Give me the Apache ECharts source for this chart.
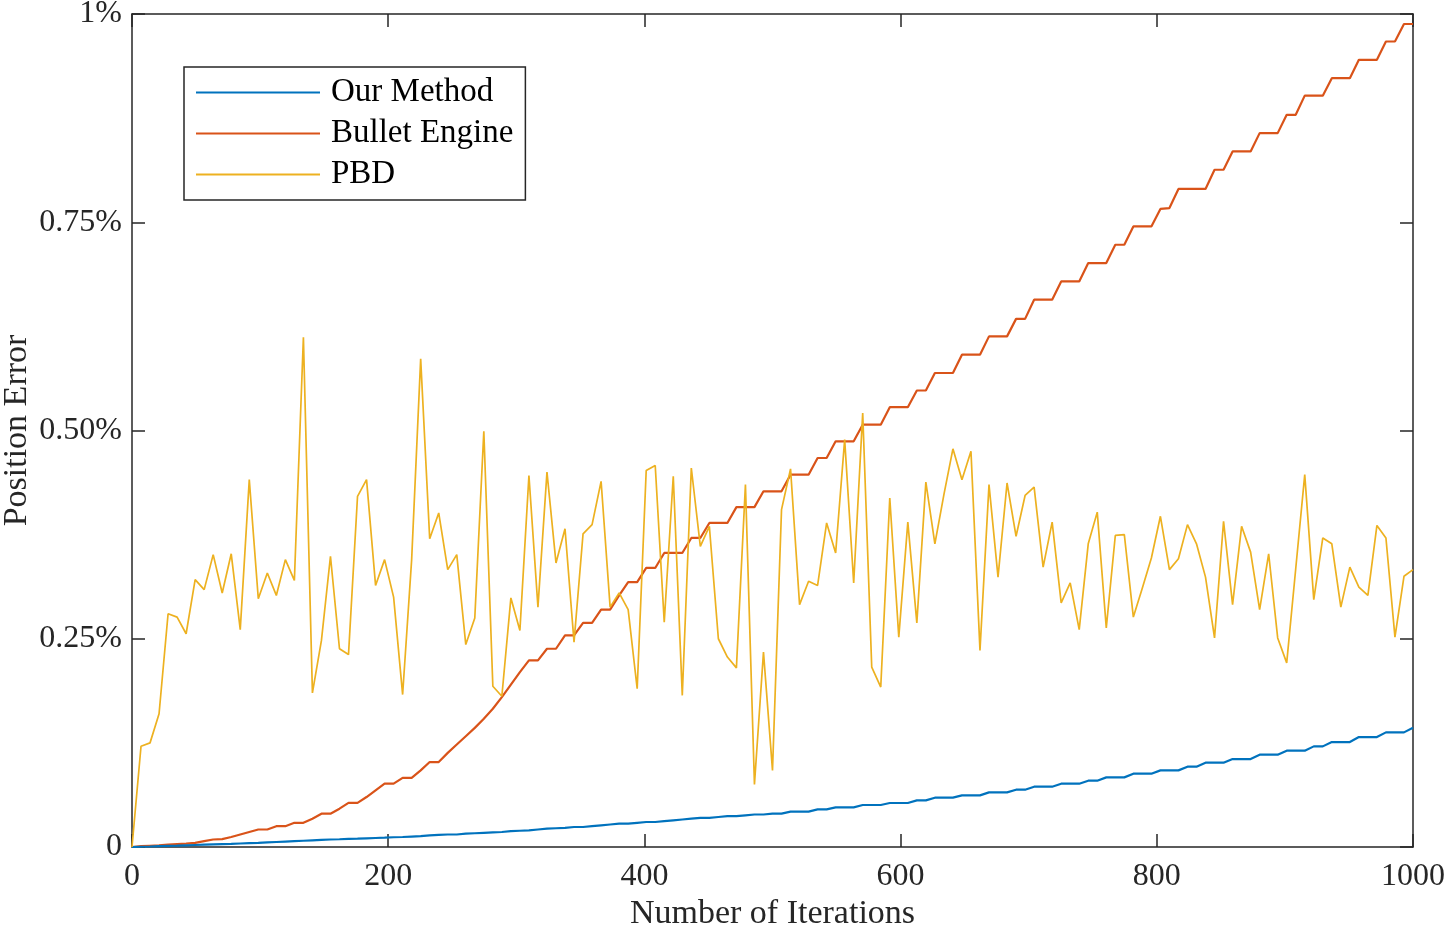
<!DOCTYPE html>
<html>
<head>
<meta charset="utf-8">
<script src="https://cdn.jsdelivr.net/npm/echarts@6/dist/echarts.min.js"></script>
<style>
  html, body { margin: 0; padding: 0; background: #fff; }
  #chart { width: 1448px; height: 931px; }
</style>
</head>
<body>
<div id="chart"></div>
<script>
// values in percent, one sample every ~7 iterations (143 samples over 0..1000)
const ourMethod = [
  0, 0.0003, 0.0006, 0.001, 0.0013, 0.0016, 0.002, 0.0024, 0.0028, 0.0032,
  0.0035, 0.0038, 0.0042, 0.0046, 0.005, 0.0055, 0.006, 0.0065, 0.007, 0.0075,
  0.008, 0.0085, 0.009, 0.0093, 0.0097, 0.010, 0.0104, 0.0108, 0.0112, 0.0117,
  0.012, 0.0125, 0.013, 0.014, 0.0145, 0.015, 0.015, 0.016, 0.0165, 0.017,
  0.0175, 0.018, 0.019, 0.0195, 0.020, 0.021, 0.022, 0.0225, 0.023, 0.024,
  0.024, 0.025, 0.026, 0.027, 0.028, 0.028, 0.029, 0.030, 0.030, 0.031,
  0.032, 0.033, 0.034, 0.035, 0.035, 0.036, 0.037, 0.037, 0.038, 0.039,
  0.039, 0.040, 0.040, 0.0424, 0.0424, 0.0424, 0.0452, 0.0452, 0.0476, 0.0476,
  0.0476, 0.0504, 0.0504, 0.0504, 0.0528, 0.0528, 0.0528, 0.056, 0.056, 0.0592,
  0.0592, 0.0592, 0.062, 0.062, 0.062, 0.0656, 0.0656, 0.0656, 0.0688, 0.0688,
  0.0724, 0.0724, 0.0724, 0.076, 0.076, 0.076, 0.0796, 0.0796, 0.0836, 0.0836,
  0.0836, 0.088, 0.088, 0.088, 0.092, 0.092, 0.092, 0.0964, 0.0964, 0.1012,
  0.1012, 0.1012, 0.1056, 0.1056, 0.1056, 0.1108, 0.1108, 0.1108, 0.1156, 0.1156,
  0.1156, 0.1208, 0.1208, 0.126, 0.126, 0.126, 0.132, 0.132, 0.132, 0.1376,
  0.1376, 0.1376, 0.1432
];
const bulletEngine = [
  0, 0.001, 0.0015, 0.002, 0.003, 0.0035, 0.004, 0.005, 0.007, 0.009,
  0.0095, 0.012, 0.015, 0.018, 0.021, 0.021, 0.025, 0.025, 0.029, 0.029,
  0.034, 0.040, 0.040, 0.046, 0.053, 0.053, 0.060, 0.068, 0.076, 0.076,
  0.083, 0.083, 0.092, 0.102, 0.102, 0.113, 0.123, 0.133, 0.143, 0.154,
  0.166, 0.180, 0.195, 0.210, 0.224, 0.224, 0.238, 0.238, 0.254, 0.254,
  0.269, 0.269, 0.285, 0.285, 0.302, 0.318, 0.318, 0.335, 0.335, 0.353,
  0.353, 0.353, 0.371, 0.371, 0.389, 0.389, 0.389, 0.408, 0.408, 0.408,
  0.427, 0.427, 0.427, 0.447, 0.447, 0.447, 0.467, 0.467, 0.487, 0.487,
  0.487, 0.507, 0.507, 0.507, 0.528, 0.528, 0.528, 0.548, 0.548, 0.569,
  0.569, 0.569, 0.591, 0.591, 0.591, 0.613, 0.613, 0.613, 0.634, 0.634,
  0.657, 0.657, 0.657, 0.679, 0.679, 0.679, 0.701, 0.701, 0.701, 0.723,
  0.723, 0.745, 0.745, 0.745, 0.766, 0.767, 0.790, 0.790, 0.790, 0.790,
  0.813, 0.813, 0.835, 0.835, 0.835, 0.857, 0.857, 0.857, 0.879, 0.879,
  0.902, 0.902, 0.902, 0.923, 0.923, 0.923, 0.945, 0.945, 0.945, 0.967,
  0.967, 0.988, 0.988
];
const pbd = [
  0, 0.121, 0.125, 0.160, 0.280, 0.276, 0.256, 0.321, 0.309, 0.351,
  0.305, 0.352, 0.261, 0.441, 0.298, 0.329, 0.302, 0.345, 0.320, 0.612,
  0.185, 0.248, 0.349, 0.238, 0.231, 0.421, 0.441, 0.314, 0.345, 0.300,
  0.183, 0.345, 0.586, 0.370, 0.401, 0.333, 0.351, 0.243, 0.275, 0.499,
  0.193, 0.181, 0.299, 0.260, 0.446, 0.288, 0.450, 0.341, 0.382, 0.246,
  0.376, 0.387, 0.439, 0.288, 0.305, 0.285, 0.190, 0.452, 0.458, 0.270,
  0.445, 0.182, 0.455, 0.361, 0.385, 0.250, 0.228, 0.215, 0.435, 0.075,
  0.234, 0.092, 0.405, 0.454, 0.291, 0.319, 0.314, 0.389, 0.353, 0.489,
  0.317, 0.521, 0.216, 0.192, 0.419, 0.252, 0.390, 0.269, 0.438, 0.364,
  0.423, 0.478, 0.441, 0.475, 0.236, 0.435, 0.324, 0.437, 0.373, 0.422,
  0.432, 0.336, 0.390, 0.293, 0.317, 0.261, 0.364, 0.402, 0.263, 0.374,
  0.375, 0.276, 0.311, 0.347, 0.397, 0.333, 0.346, 0.387, 0.364, 0.324,
  0.251, 0.391, 0.291, 0.385, 0.354, 0.285, 0.352, 0.251, 0.221, 0.334,
  0.447, 0.297, 0.371, 0.364, 0.288, 0.336, 0.312, 0.302, 0.386, 0.371,
  0.252, 0.325, 0.333
];
const xTicks = [0, 200, 400, 600, 800, 1000];
const yTickLabels = { 0: '0', 0.25: '0.25%', 0.5: '0.50%', 0.75: '0.75%', 1: '1%' };

const maxIter = 1000;
const step = maxIter / (pbd.length - 1);
function pairs(arr) {
  return arr.map((v, i) => [i * step, v]);
}

const font = 'Liberation Serif';
const axisColor = '#262626';

const chart = echarts.init(document.getElementById('chart'));

const baseX = {
  type: 'value',
  min: 0,
  max: maxIter,
  interval: 200,
  axisLine: { show: true, onZero: false, lineStyle: { color: axisColor, width: 1.5 } },
  axisTick: { show: true, inside: true, length: 13, lineStyle: { color: axisColor, width: 1.5 } },
  splitLine: { show: false }
};
const baseY = {
  type: 'value',
  min: 0,
  max: 1,
  interval: 0.25,
  axisLine: { show: true, onZero: false, lineStyle: { color: axisColor, width: 1.5 } },
  axisTick: { show: true, inside: true, length: 13, lineStyle: { color: axisColor, width: 1.5 } },
  splitLine: { show: false }
};

var option = {
  animation: false,
  color: ['#0072BD', '#D95319', '#EDB120'],
  grid: { left: 132, right: 35, top: 14, bottom: 84, containLabel: false, outerBoundsMode: 'none' },
  legend: {
    orient: 'vertical',
    left: 184,
    top: 67,
    padding: [5, 12, 5, 12],
    itemWidth: 124,
    itemHeight: 2,
    itemGap: 0,
    icon: 'rect',
    borderColor: axisColor,
    borderWidth: 1.5,
    backgroundColor: '#fff',
    textStyle: { fontFamily: font, fontSize: 33, lineHeight: 41, color: '#000', padding: [0, 0, 0, 6] },
    data: ['Our Method', 'Bullet Engine', 'PBD']
  },
  xAxis: [
    Object.assign({}, baseX, {
      position: 'bottom',
      name: 'Number of Iterations',
      nameLocation: 'middle',
      nameGap: 50,
      nameMoveOverlap: false,
      nameTextStyle: { fontFamily: font, fontSize: 34, color: axisColor },
      axisLabel: {
        margin: 14,
        fontFamily: font,
        fontSize: 32,
        color: axisColor,
        formatter: v => (xTicks.indexOf(v) >= 0 ? String(v) : '')
      }
    }),
    Object.assign({}, baseX, { position: 'top', axisLabel: { show: false } })
  ],
  yAxis: [
    Object.assign({}, baseY, {
      position: 'left',
      name: 'Position Error',
      nameLocation: 'middle',
      nameGap: 98,
      nameMoveOverlap: false,
      nameTextStyle: { fontFamily: font, fontSize: 34, color: axisColor },
      axisLabel: {
        margin: 10,
        fontFamily: font,
        fontSize: 32,
        color: axisColor,
        formatter: v => yTickLabels[v] !== undefined ? yTickLabels[v] : ''
      }
    }),
    Object.assign({}, baseY, { position: 'right', axisLabel: { show: false } })
  ],
  series: [
    {
      name: 'Our Method',
      type: 'line',
      showSymbol: false,
      lineStyle: { width: 2.2 },
      data: pairs(ourMethod),
      z: 3
    },
    {
      name: 'Bullet Engine',
      type: 'line',
      showSymbol: false,
      lineStyle: { width: 2.2 },
      data: pairs(bulletEngine),
      z: 2
    },
    {
      name: 'PBD',
      type: 'line',
      showSymbol: false,
      lineStyle: { width: 1.7 },
      data: pairs(pbd),
      z: 4
    }
  ]
};

chart.setOption(option);
</script>
</body>
</html>
